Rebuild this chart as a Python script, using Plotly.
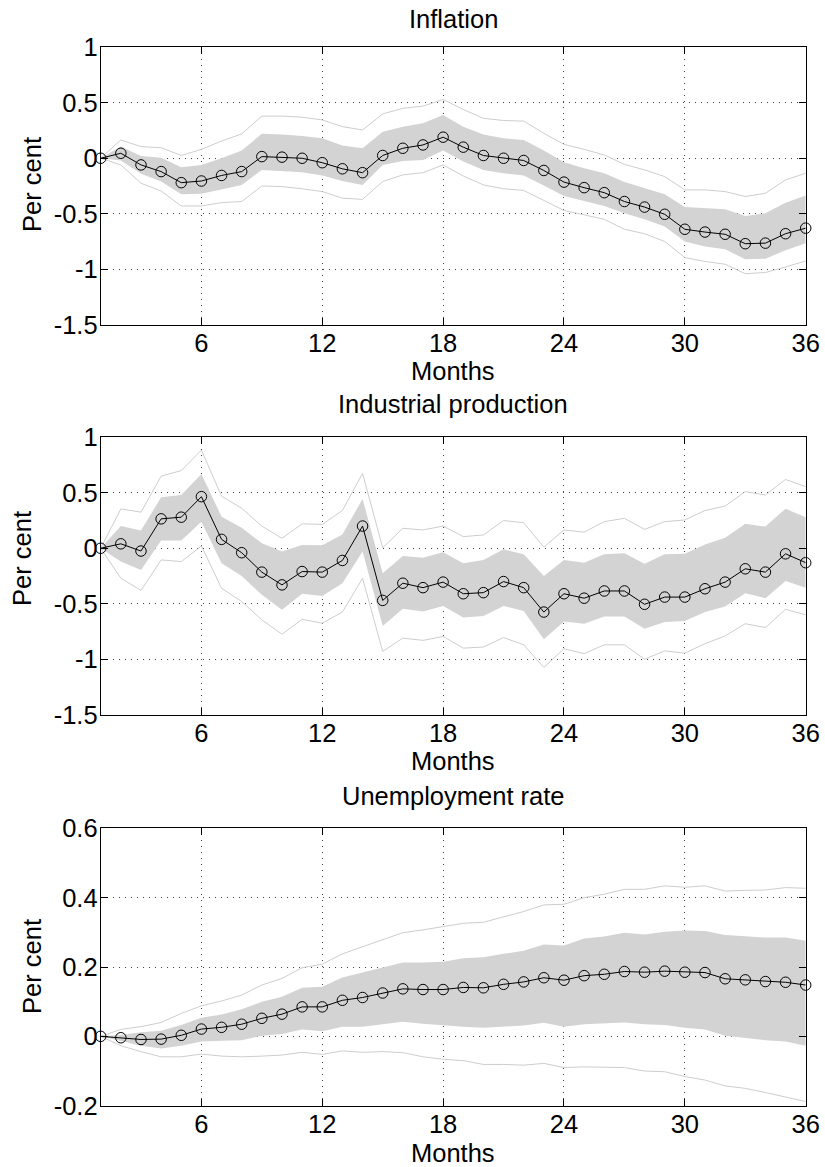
import plotly.graph_objects as go

# Impulse responses over a 36-month horizon: point estimate, inner band, outer band
months = list(range(1, 37))

infl_mid = [0, 0.045, -0.06, -0.12, -0.22, -0.205, -0.155, -0.12, 0.015, 0.01, 0, -0.04,
            -0.095, -0.13, 0.025, 0.09, 0.12, 0.19, 0.10, 0.025, 0, -0.02, -0.11, -0.215,
            -0.265, -0.31, -0.39, -0.44, -0.505, -0.64, -0.665, -0.685, -0.77, -0.765, -0.68, -0.63]
infl_band_hi = [0, 0.105, 0.02, 0.005, -0.08, -0.06, 0, 0.07, 0.22, 0.215, 0.20, 0.18,
                0.115, 0.09, 0.24, 0.285, 0.315, 0.39, 0.285, 0.215, 0.18, 0.165, 0.07, -0.035,
                -0.09, -0.135, -0.215, -0.27, -0.325, -0.44, -0.45, -0.46, -0.52, -0.495, -0.40, -0.335]
infl_band_lo = [0, -0.02, -0.14, -0.21, -0.325, -0.32, -0.28, -0.24, -0.105, -0.115, -0.125, -0.155,
                -0.205, -0.24, -0.06, -0.025, -0.015, 0.07, -0.03, -0.105, -0.135, -0.155, -0.245, -0.34,
                -0.385, -0.43, -0.495, -0.55, -0.615, -0.75, -0.795, -0.82, -0.91, -0.905, -0.83, -0.765]
infl_outer_hi = [0, 0.165, 0.105, 0.095, 0.025, 0.08, 0.155, 0.22, 0.38, 0.38, 0.37, 0.345,
                 0.285, 0.255, 0.40, 0.45, 0.47, 0.53, 0.44, 0.36, 0.34, 0.335, 0.225, 0.125,
                 0.08, 0.03, -0.055, -0.105, -0.165, -0.285, -0.285, -0.30, -0.345, -0.315, -0.195, -0.135]
infl_outer_lo = [0, -0.06, -0.225, -0.295, -0.43, -0.43, -0.40, -0.39, -0.25, -0.255, -0.275, -0.30,
                 -0.36, -0.37, -0.21, -0.15, -0.13, -0.06, -0.16, -0.24, -0.275, -0.29, -0.38, -0.47,
                 -0.51, -0.55, -0.64, -0.68, -0.75, -0.895, -0.93, -0.955, -1.04, -1.03, -0.98, -0.925]

ip_mid = [0, 0.04, -0.025, 0.265, 0.28, 0.465, 0.08, -0.04, -0.215, -0.33, -0.21, -0.215,
          -0.11, 0.20, -0.47, -0.315, -0.355, -0.305, -0.41, -0.40, -0.30, -0.355, -0.575, -0.41,
          -0.45, -0.385, -0.385, -0.505, -0.44, -0.44, -0.365, -0.305, -0.185, -0.215, -0.05, -0.13]
ip_band_hi = [0, 0.20, 0.16, 0.46, 0.48, 0.67, 0.285, 0.185, 0.045, -0.03, 0.03, 0.027,
              0.125, 0.445, -0.225, -0.07, -0.085, -0.035, -0.135, -0.105, -0.01, -0.055, -0.25, -0.105,
              -0.13, -0.055, -0.045, -0.14, -0.055, -0.05, 0.035, 0.095, 0.22, 0.195, 0.355, 0.28]
ip_band_lo = [0, -0.12, -0.195, 0.07, 0.07, 0.24, -0.135, -0.25, -0.42, -0.555, -0.41, -0.43,
              -0.315, -0.03, -0.70, -0.545, -0.57, -0.52, -0.625, -0.61, -0.52, -0.565, -0.82, -0.66,
              -0.68, -0.615, -0.615, -0.725, -0.665, -0.655, -0.575, -0.525, -0.405, -0.45, -0.295, -0.355]
ip_outer_hi = [0, 0.355, 0.325, 0.65, 0.70, 0.885, 0.47, 0.36, 0.20, 0.09, 0.22, 0.215,
               0.34, 0.675, 0.005, 0.18, 0.165, 0.20, 0.105, 0.12, 0.25, 0.23, 0.01, 0.165,
               0.145, 0.24, 0.27, 0.17, 0.24, 0.255, 0.34, 0.38, 0.51, 0.48, 0.62, 0.555]
ip_outer_lo = [0, -0.27, -0.38, -0.105, -0.12, 0.02, -0.36, -0.48, -0.645, -0.775, -0.64, -0.675,
               -0.575, -0.27, -0.93, -0.81, -0.83, -0.795, -0.90, -0.89, -0.805, -0.87, -1.075, -0.905,
               -0.95, -0.87, -0.87, -1.0, -0.925, -0.945, -0.86, -0.79, -0.68, -0.715, -0.55, -0.60]

un_mid = [0, -0.004, -0.009, -0.008, 0.003, 0.021, 0.026, 0.035, 0.052, 0.064, 0.085, 0.085,
          0.104, 0.112, 0.125, 0.137, 0.135, 0.135, 0.141, 0.140, 0.150, 0.157, 0.169, 0.162,
          0.175, 0.179, 0.187, 0.185, 0.188, 0.185, 0.184, 0.166, 0.163, 0.158, 0.156, 0.148]
un_band_hi = [0, 0.004, 0.012, 0.016, 0.033, 0.054, 0.063, 0.078, 0.100, 0.114, 0.140, 0.143,
              0.170, 0.185, 0.200, 0.213, 0.213, 0.215, 0.225, 0.228, 0.238, 0.247, 0.265, 0.262,
              0.282, 0.288, 0.299, 0.294, 0.302, 0.305, 0.304, 0.292, 0.289, 0.285, 0.285, 0.276]
un_band_lo = [0, -0.013, -0.027, -0.035, -0.027, -0.015, -0.013, -0.011, 0.002, 0.007, 0.020, 0.015,
              0.028, 0.028, 0.035, 0.042, 0.036, 0.031, 0.028, 0.025, 0.028, 0.031, 0.039, 0.028,
              0.035, 0.038, 0.040, 0.035, 0.033, 0.025, 0.020, 0.002, -0.004, -0.011, -0.015, -0.027]
un_outer_hi = [0, 0.020, 0.028, 0.040, 0.066, 0.088, 0.102, 0.119, 0.148, 0.167, 0.198, 0.208,
               0.238, 0.259, 0.278, 0.299, 0.307, 0.316, 0.326, 0.329, 0.345, 0.360, 0.379, 0.381,
               0.400, 0.410, 0.424, 0.424, 0.434, 0.430, 0.434, 0.419, 0.421, 0.422, 0.429, 0.427]
un_outer_lo = [0, -0.027, -0.044, -0.059, -0.059, -0.051, -0.057, -0.059, -0.057, -0.054, -0.046, -0.052,
               -0.042, -0.046, -0.044, -0.047, -0.059, -0.066, -0.070, -0.081, -0.081, -0.083, -0.078, -0.090,
               -0.088, -0.090, -0.090, -0.100, -0.102, -0.116, -0.126, -0.143, -0.150, -0.162, -0.174, -0.188]

titles = ["Inflation", "Industrial production", "Unemployment rate"]
x_ticks = [6, 12, 18, 24, 30, 36]
y_ticks = [[-1.5, -1, -0.5, 0, 0.5, 1], [-1.5, -1, -0.5, 0, 0.5, 1], [-0.2, 0, 0.2, 0.4, 0.6]]
y_tick_text = [["-1.5", "-1", "-0.5", "0", "0.5", "1"], ["-1.5", "-1", "-0.5", "0", "0.5", "1"],
               ["-0.2", "0", "0.2", "0.4", "0.6"]]
y_ranges = [[-1.5, 1], [-1.5, 1], [-0.2, 0.6]]

panels = [
    (infl_mid, infl_band_hi, infl_band_lo, infl_outer_hi, infl_outer_lo),
    (ip_mid, ip_band_hi, ip_band_lo, ip_outer_hi, ip_outer_lo),
    (un_mid, un_band_hi, un_band_lo, un_outer_hi, un_outer_lo),
]

W, H = 825, 1167
FONT = "Liberation Sans, Arial, Helvetica, sans-serif"
FS = 25.5

# pixel geometry of the three axes boxes (left, right, top, bottom)
x_left, x_right = 100.7, 805.7
boxes_y = [(47.3, 324.7), (437.3, 714.7), (828.3, 1105.7)]


def py(px):
    return 1 - px / H


fig = go.Figure()
layout_axes = {}
annotations = []

for i, (mid, bhi, blo, ohi, olo) in enumerate(panels):
    n = i + 1
    xa = "x" if n == 1 else f"x{n}"
    ya = "y" if n == 1 else f"y{n}"

    # shaded inner band
    fig.add_trace(go.Scatter(
        x=months + months[::-1], y=bhi + blo[::-1], xaxis=xa, yaxis=ya,
        fill="toself", fillcolor="#d3d3d3", line=dict(width=0), mode="lines",
        hoverinfo="skip", showlegend=False))
    # outer band edges
    for edge in (ohi, olo):
        fig.add_trace(go.Scatter(
            x=months, y=edge, xaxis=xa, yaxis=ya, mode="lines",
            line=dict(color="#cdcdcd", width=1), hoverinfo="skip", showlegend=False))
    # point estimate
    fig.add_trace(go.Scatter(
        x=months, y=mid, xaxis=xa, yaxis=ya, mode="lines+markers",
        line=dict(color="black", width=1),
        marker=dict(symbol="circle-open", size=10.5, color="black", line=dict(width=1)),
        cliponaxis=False, showlegend=False))

    top, bot = boxes_y[i]
    common = dict(showline=True, linecolor="black", linewidth=1, mirror="ticks",
                  ticks="inside", ticklen=7, tickcolor="black", tickwidth=1,
                  showgrid=True, gridcolor="#444444", gridwidth=1, griddash="1px,5px",
                  zeroline=False, layer="above traces", automargin=False,
                  tickfont=dict(family=FONT, size=FS, color="black"))
    layout_axes["xaxis" if n == 1 else f"xaxis{n}"] = dict(
        common, domain=[x_left / W, x_right / W], range=[1, 36],
        tickvals=x_ticks, ticktext=[str(v) for v in x_ticks],
        ticklabelstandoff=-4, anchor=ya)
    layout_axes["yaxis" if n == 1 else f"yaxis{n}"] = dict(
        common, domain=[py(bot), py(top)], range=y_ranges[i],
        tickvals=y_ticks[i], ticktext=y_tick_text[i],
        ticklabelstandoff=-3, anchor=xa)

    # panel title
    annotations.append(dict(text=titles[i], x=453.2 / W, y=py([19.4, 403.7, 795.7][i]),
                            xref="paper", yref="paper", showarrow=False,
                            xanchor="center", yanchor="middle",
                            font=dict(family=FONT, size=FS, color="black")))
    # x axis title
    annotations.append(dict(text="Months", x=453.2 / W, y=py([371.4, 761.4, 1153.1][i]),
                            xref="paper", yref="paper", showarrow=False,
                            xanchor="center", yanchor="middle",
                            font=dict(family=FONT, size=FS, color="black")))
    # y axis title
    annotations.append(dict(text="Per cent", x=[32, 22, 32][i] / W, y=py([185, 559, 967][i]),
                            xref="paper", yref="paper", showarrow=False, textangle=-90,
                            xanchor="center", yanchor="middle",
                            font=dict(family=FONT, size=FS, color="black")))

fig.update_layout(
    width=W, height=H, margin=dict(l=0, r=0, t=0, b=0),
    paper_bgcolor="white", plot_bgcolor="white",
    showlegend=False, annotations=annotations,
    font=dict(family=FONT, size=FS, color="black"),
    **layout_axes)

fig.write_html("out.html")
